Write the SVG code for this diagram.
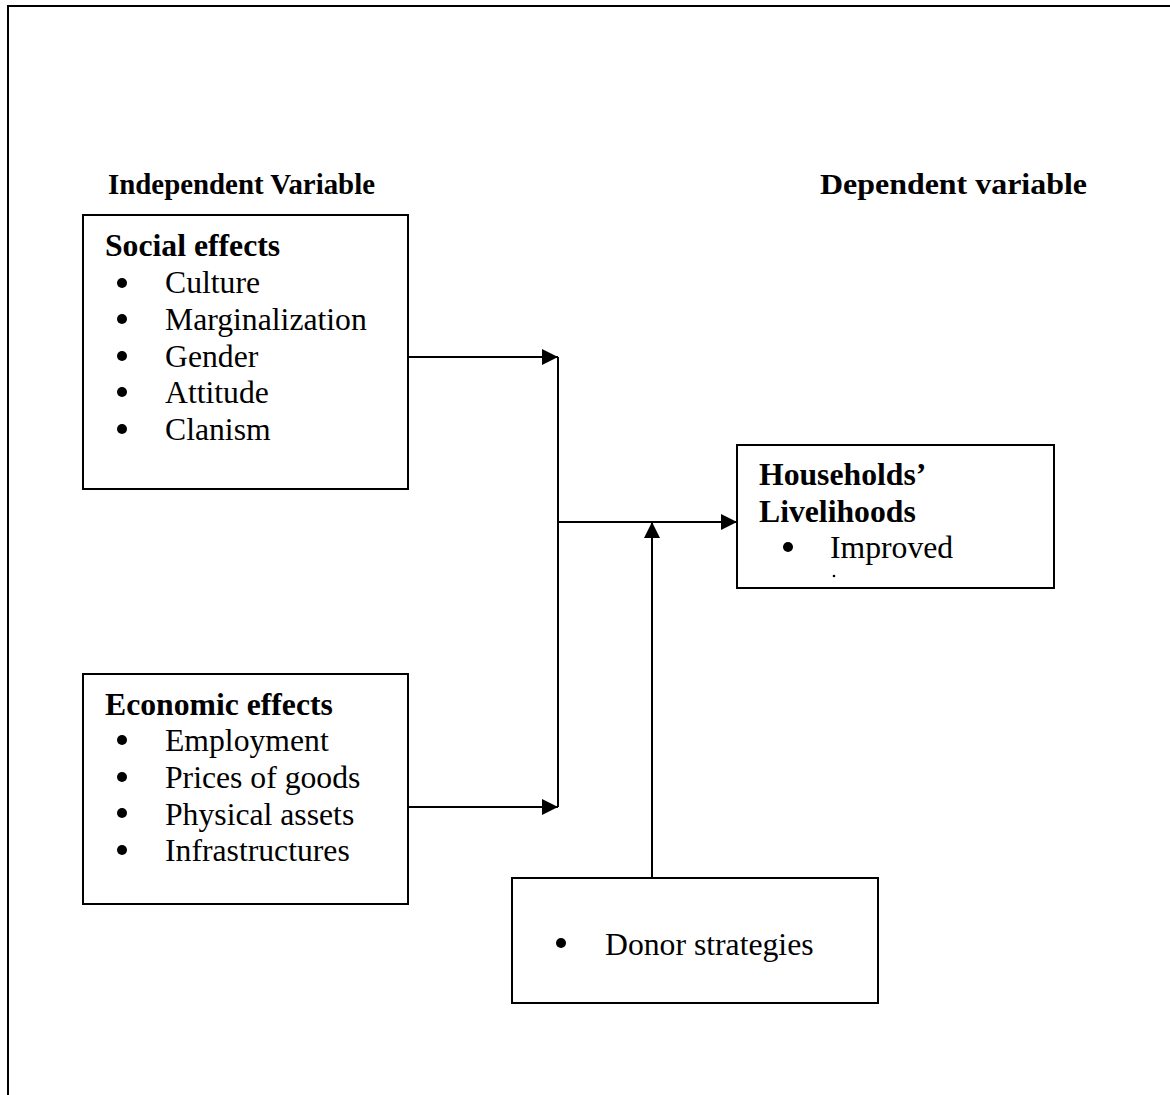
<svg xmlns="http://www.w3.org/2000/svg" width="1170" height="1095" viewBox="0 0 1170 1095">
<style>
.box{fill:#fff;stroke:#000;stroke-width:2}
.ln{fill:none;stroke:#000;stroke-width:2}
.dot{fill:#000}
text{font-family:"Liberation Serif","Times New Roman",serif;fill:#000}
.h{font-weight:bold;font-size:30px}
.b{font-weight:bold;font-size:31.7px}
.t{font-size:31.7px}
</style>
<defs>
<marker id="ah" viewBox="0 0 10 10" refX="10" refY="5" markerWidth="16" markerHeight="16" markerUnits="userSpaceOnUse" orient="auto">
<path d="M0,0 L10,5 L0,10 Z" fill="#000"/>
</marker>
</defs>
<rect x="1" y="1" width="1168" height="1093" fill="#fff" stroke="none"/>
<path class="ln" d="M8,1095 V6 H1170" stroke-width="2.5"/>
<text class="h" x="108" y="194" textLength="267" lengthAdjust="spacingAndGlyphs">Independent Variable</text>
<text class="h" x="820" y="194" textLength="267" lengthAdjust="spacingAndGlyphs">Dependent variable</text>
<g id="connectors">
<path class="ln" d="M408,357 H558" marker-end="url(#ah)"/>
<path class="ln" d="M408,807 H558" marker-end="url(#ah)"/>
<path class="ln" d="M558,357 V807"/>
<path class="ln" d="M558,522 H737" marker-end="url(#ah)"/>
<path class="ln" d="M652,878 V522" marker-end="url(#ah)"/>
</g>
<g id="social">
<rect class="box" x="83" y="215" width="325" height="274"/>
<text class="b" x="105" y="256">Social effects</text>
<circle class="dot" cx="122" cy="283" r="5"/><text class="t" x="165" y="293">Culture</text>
<circle class="dot" cx="122" cy="319" r="5"/><text class="t" x="165" y="330">Marginalization</text>
<circle class="dot" cx="122" cy="356" r="5"/><text class="t" x="165" y="367">Gender</text>
<circle class="dot" cx="122" cy="392" r="5"/><text class="t" x="165" y="403">Attitude</text>
<circle class="dot" cx="122" cy="429" r="5"/><text class="t" x="165" y="440">Clanism</text>
</g>
<g id="economic">
<rect class="box" x="83" y="674" width="325" height="230"/>
<text class="b" x="105" y="715">Economic effects</text>
<circle class="dot" cx="122" cy="740" r="5"/><text class="t" x="165" y="751">Employment</text>
<circle class="dot" cx="122" cy="777" r="5"/><text class="t" x="165" y="788">Prices of goods</text>
<circle class="dot" cx="122" cy="813" r="5"/><text class="t" x="165" y="825">Physical assets</text>
<circle class="dot" cx="122" cy="850" r="5"/><text class="t" x="165" y="861">Infrastructures</text>
</g>
<g id="households">
<rect class="box" x="737" y="445" width="317" height="143"/>
<text class="b" x="759" y="485">Households’</text>
<text class="b" x="759" y="522">Livelihoods</text>
<circle class="dot" cx="788" cy="547" r="5"/><text class="t" x="830" y="558">Improved</text>
<circle class="dot" cx="834" cy="576" r="1.3"/>
</g>
<g id="donor">
<rect class="box" x="512" y="878" width="366" height="125"/>
<circle class="dot" cx="561" cy="943" r="5"/><text class="t" x="605" y="955">Donor strategies</text>
</g>
</svg>
